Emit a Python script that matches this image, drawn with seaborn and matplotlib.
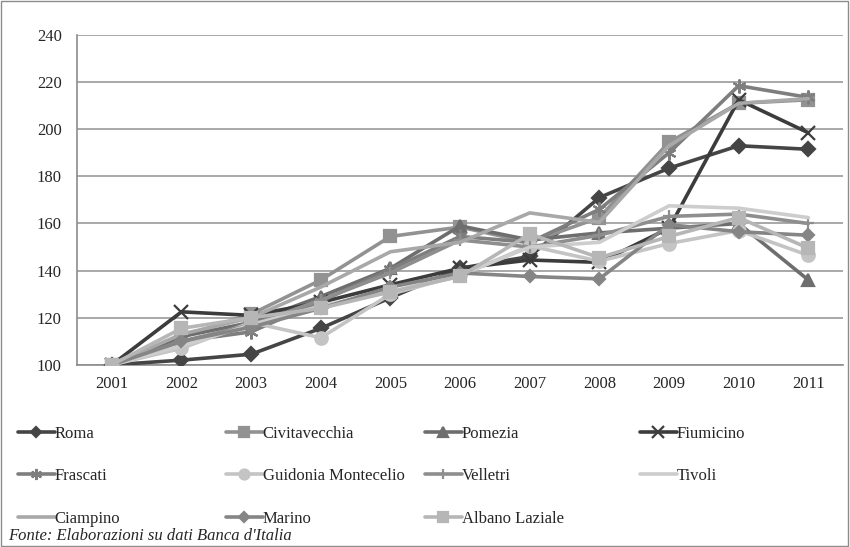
import numpy as np
import pandas as pd
import matplotlib
matplotlib.use('Agg')
import matplotlib.pyplot as plt
import seaborn as sns
from matplotlib.patches import Rectangle

years = [2001, 2002, 2003, 2004, 2005, 2006, 2007, 2008, 2009, 2010, 2011]

roma = [100, 102, 104.5, 115.5, 128.5, 141, 146, 171, 183.5, 193, 191.5]
civitavecchia = [100, 112, 121.5, 136, 154.5, 158.5, 152, 162.5, 194.5, 211, 212.5]
pomezia = [100, 112, 118, 129, 141, 159, 153, 156, 158, 160, 136]
fiumicino = [100, 122.5, 121, 126.5, 134, 141, 144.5, 143.5, 158, 212.5, 198.5]
frascati = [100, 110, 114, 127, 140.5, 154.5, 152, 166, 190, 218.5, 213.5]
guidonia = [100, 107, 118, 111.5, 130, 138, 150.5, 144, 151.5, 157, 146.5]
velletri = [100, 110, 117, 127.5, 139, 153, 150, 155, 163, 164, 160]
tivoli = [100, 108, 117, 125, 131, 138, 150, 152, 167.5, 166.5, 162.5]
ciampino = [100, 113, 120, 133, 148, 152, 164.5, 160.5, 193, 211, 213]
marino = [100, 110, 116, 124, 133, 139, 137.5, 136.5, 159.5, 156.5, 155]
albano = [100, 115.5, 120, 124, 131, 137.5, 155.5, 145.5, 154.5, 162.5, 149.5]

names = ['Roma', 'Civitavecchia', 'Pomezia', 'Fiumicino', 'Frascati',
         'Guidonia Montecelio', 'Velletri', 'Tivoli', 'Ciampino', 'Marino',
         'Albano Laziale']
series = [roma, civitavecchia, pomezia, fiumicino, frascati, guidonia,
          velletri, tivoli, ciampino, marino, albano]

df = pd.DataFrame({'Anno': years * len(names),
                   'Comune': np.repeat(names, len(years)),
                   'Indice': np.concatenate(series)})

colors = {
    'Roma': '#454545', 'Civitavecchia': '#929292', 'Pomezia': '#6e6e6e',
    'Fiumicino': '#3c3c3c', 'Frascati': '#7e7e7e',
    'Guidonia Montecelio': '#c4c4c4', 'Velletri': '#8e8e8e',
    'Tivoli': '#cdcdcd', 'Ciampino': '#a8a8a8', 'Marino': '#858585',
    'Albano Laziale': '#b6b6b6',
}
markers = {
    'Roma': ('D', 7), 'Civitavecchia': ('s', 9), 'Pomezia': ('^', 9),
    'Fiumicino': ('x', 10), 'Frascati': ((6, 2, 0), 10),
    'Guidonia Montecelio': ('o', 9), 'Velletri': ('+', 9),
    'Tivoli': (None, 0), 'Ciampino': (None, 0), 'Marino': ('D', 6),
    'Albano Laziale': ('s', 9),
}

sns.set_style('white')
plt.rcParams['font.family'] = ['Liberation Serif', 'DejaVu Serif']

fig = plt.figure(figsize=(8.5, 5.47), dpi=100)
ax = fig.add_axes([0.0906, 0.333, 0.9014, 0.603])

handles = {}
for i, name in enumerate(names):
    sub = df[df['Comune'] == name]
    m, ms = markers[name]
    sns.lineplot(data=sub, x='Anno', y='Indice', ax=ax, color=colors[name],
                 linewidth=2.6, marker=m, markersize=ms,
                 markeredgecolor=colors[name], markeredgewidth=1.6,
                 zorder=3 + i, legend=False)
    handles[name] = ax.lines[-1]

ax.set_xlim(2000.5, 2011.5)
ax.set_ylim(100, 240)
ax.set_yticks(np.arange(100, 241, 20))
ax.set_xticks(years)
ax.set_xticks(np.arange(2001.5, 2011, 1), minor=True)
ax.set_xlabel('')
ax.set_ylabel('')
ax.grid(axis='y', color='#9a9a9a', linewidth=1.2, zorder=0)
for s in ['top', 'right']:
    ax.spines[s].set_visible(False)
for s in ['left', 'bottom']:
    ax.spines[s].set_color('#8c8c8c')
    ax.spines[s].set_linewidth(1.2)
ax.tick_params(axis='x', which='major', length=0, labelsize=12, pad=8)
ax.tick_params(axis='x', which='minor', length=5, color='#8c8c8c', width=1.2)
ax.tick_params(axis='y', length=5, color='#8c8c8c', width=1.2, labelsize=12, pad=6)
ax.set_axisbelow(True)

# legend laid out row by row, one legend per column
columns = [['Roma', 'Frascati', 'Ciampino'],
           ['Civitavecchia', 'Guidonia Montecelio', 'Marino'],
           ['Pomezia', 'Velletri', 'Albano Laziale'],
           ['Fiumicino', 'Tivoli']]
col_x = [0.021, 0.266, 0.5, 0.753]
for cx, col in zip(col_x, columns):
    leg = fig.legend([handles[n] for n in col], col, loc='upper left',
                     bbox_to_anchor=(cx, 0.222), frameon=False,
                     handlelength=2.2, handletextpad=0.0, labelspacing=1.6,
                     fontsize=12, borderaxespad=0, borderpad=0, markerscale=0.8)

fig.text(0.01, 0.012, "Fonte: Elaborazioni su dati Banca d'Italia",
         fontsize=12, style='italic')

fig.patches.append(Rectangle((0.001, 0.001), 0.997, 0.997, transform=fig.transFigure,
                             fill=False, edgecolor='#8c8c8c', linewidth=1.0))

fig.savefig('out.png', dpi=100)
